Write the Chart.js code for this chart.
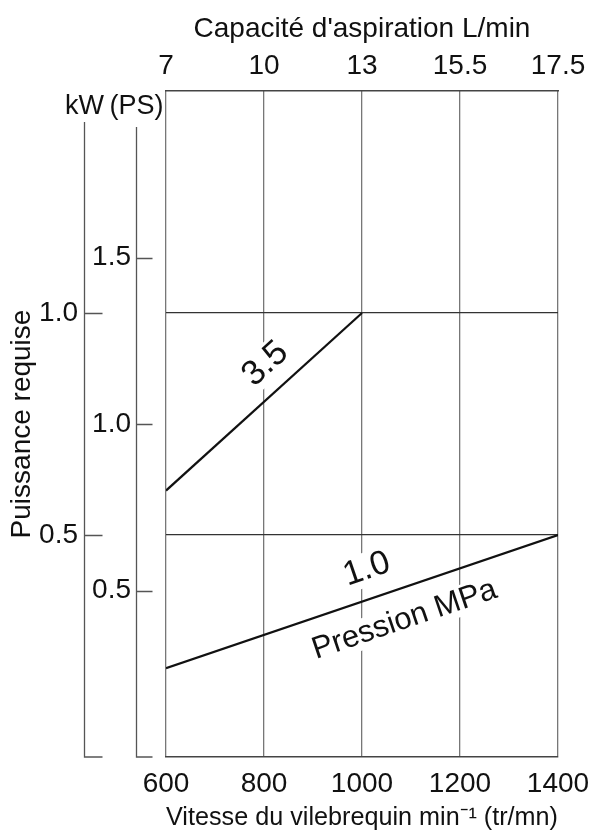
<!DOCTYPE html>
<html>
<head>
<meta charset="utf-8">
<script src="https://cdn.jsdelivr.net/npm/chart.js@4"></script>
<style>
  html, body { margin: 0; padding: 0; background: #fff; }
</style>
</head>
<body>
<canvas id="myChart" width="590" height="837"></canvas>
<script>
// crankshaft speed (min-1) on the bottom axis, suction capacity (L/min) on top
const rpmTicks = [600, 800, 1000, 1200, 1400];
const capacityLabels = ['7', '10', '13', '15.5', '17.5'];
const kwTicks = [0.5, 1.0];
const psTicks = [0.5, 1.0, 1.5];

// required power (kW) for each pressure line (MPa)
const pressureNames = ['3.5', '1.0'];
const rpm35 = [600, 1000];
const kw35 = [0.60, 1.00];
const rpm10 = [600, 1400];
const kw10 = [0.20, 0.50];

const FONT = "'Liberation Sans', Arial, Helvetica, sans-serif";
Chart.defaults.font.family = FONT;
Chart.defaults.color = '#111';

const toPoints = (xs, ys) => xs.map((x, i) => ({ x: x, y: ys[i] }));
const fixedTicks = list => scale => { scale.ticks = list.map(v => ({ value: v })); };
// fixed band height, and no extra side padding for the end labels
const horizFit = h => s => { s.height = h; s.paddingLeft = 0; s.paddingRight = 0; };

// labels written along the lines
const lineLabels = [
    { series: 0, text: pressureNames[0], t: 0.6, d: 27, size: 35 },
    { series: 1, text: pressureNames[1], t: 0.536, d: 29, size: 34 },
    { series: 1, text: 'Pression MPa', t: 0.583, d: -31, size: 31 }
];

const lineLabelPlugin = {
    id: 'lineLabels',
    beforeDatasetsDraw(chart) {
        const ctx = chart.ctx;
        lineLabels.forEach(lb => {
            const pts = chart.getDatasetMeta(lb.series).data;
            const p0 = pts[0], p1 = pts[pts.length - 1];
            const a = Math.atan2(p1.y - p0.y, p1.x - p0.x);
            const cx = p0.x + lb.t * (p1.x - p0.x) + lb.d * Math.sin(a);
            const cy = p0.y + lb.t * (p1.y - p0.y) - lb.d * Math.cos(a);
            ctx.save();
            ctx.translate(cx, cy);
            ctx.rotate(a);
            ctx.font = lb.size + 'px ' + FONT;
            const w = ctx.measureText(lb.text).width;
            ctx.fillStyle = '#fff';
            ctx.fillRect(-w / 2 - 6, -lb.size * 0.5, w + 12, lb.size);
            ctx.fillStyle = '#111';
            ctx.textAlign = 'center';
            ctx.textBaseline = 'middle';
            ctx.fillText(lb.text, 0, 0);
            ctx.restore();
        });
    }
};

// the two power axes: vertical line, ticks pointing right, unit on top
const powerAxesPlugin = {
    id: 'powerAxes',
    afterDraw(chart) {
        const { ctx, chartArea, scales } = chart;
        const axes = [
            { scale: scales.kw, ticks: kwTicks, shift: 0, drop: 31, len: 18, unit: 'kW' },
            { scale: scales.ps, ticks: psTicks, shift: -30, drop: 36, len: 16, unit: '(PS)' }
        ];
        ctx.save();
        ctx.strokeStyle = '#555';
        ctx.lineWidth = 1.3;
        axes.forEach(ax => {
            const x = Math.round(ax.scale.right + ax.shift) + 0.5;
            const bottom = chartArea.bottom;
            ctx.beginPath();
            ctx.moveTo(x, chartArea.top + ax.drop);
            ctx.lineTo(x, bottom);
            ctx.lineTo(x + ax.len, bottom);
            ax.ticks.forEach(v => {
                const y = Math.round(ax.scale.getPixelForValue(v)) + 0.5;
                ctx.moveTo(x, y);
                ctx.lineTo(x + ax.len, y);
            });
            ctx.stroke();
            ctx.fillStyle = '#111';
            ctx.font = '27px ' + FONT;
            ctx.textAlign = 'center';
            ctx.textBaseline = 'middle';
            ctx.fillText(ax.unit, x, chartArea.top + 16);
        });
        ctx.restore();
    }
};

new Chart(document.getElementById('myChart').getContext('2d'), {
    type: 'line',
    data: {
        datasets: [
            { label: pressureNames[0], data: toPoints(rpm35, kw35), xAxisID: 'x', yAxisID: 'kw' },
            { label: pressureNames[1], data: toPoints(rpm10, kw10), xAxisID: 'x', yAxisID: 'kw' }
        ]
    },
    options: {
        responsive: false,
        animation: false,
        devicePixelRatio: 1,
        layout: { padding: { left: 0, right: 32, top: 0, bottom: 0 } },
        elements: {
            line: { borderColor: '#111', borderWidth: 2.2, tension: 0, fill: false },
            point: { radius: 0 }
        },
        plugins: { legend: { display: false }, tooltip: { enabled: false } },
        scales: {
            x: {
                type: 'linear', position: 'bottom', min: 600, max: 1400,
                afterBuildTicks: fixedTicks(rpmTicks),
                afterFit: horizFit(80),
                grid: { color: '#777', lineWidth: 1.3, drawTicks: false },
                border: { color: '#444', width: 1.5 },
                ticks: {
                    font: { size: 28 }, padding: 10, maxRotation: 0, autoSkip: false,
                    callback: v => String(v)
                },
                title: {
                    display: true, text: 'Vitesse du vilebrequin min⁻¹ (tr/mn)',
                    font: { size: 26 }, padding: { top: 0, bottom: 4 }
                }
            },
            x2: {
                type: 'linear', position: 'top', min: 600, max: 1400,
                afterBuildTicks: fixedTicks(rpmTicks),
                afterFit: horizFit(91),
                grid: { display: false, drawTicks: false },
                border: { color: '#444', width: 1.5 },
                ticks: {
                    font: { size: 28 }, padding: 8, maxRotation: 0, autoSkip: false,
                    callback: (v, i) => capacityLabels[i]
                },
                title: {
                    display: true, text: "Capacité d'aspiration L/min",
                    font: { size: 28 }, padding: { top: 12, bottom: 0 }
                }
            },
            kw: {
                type: 'linear', position: 'left', weight: 2, min: 0, max: 1.5,
                afterBuildTicks: fixedTicks(kwTicks),
                afterFit: s => { s.width = 84; },
                grid: { color: '#333', lineWidth: 1.3, drawTicks: false },
                border: { display: false },
                ticks: { font: { size: 28 }, padding: 6, callback: v => v.toFixed(1) },
                title: {
                    display: true, text: 'Puissance requise',
                    font: { size: 28 }, padding: { top: 5, bottom: 0 }
                }
            },
            ps: {
                type: 'linear', position: 'left', weight: 1, min: 0, max: 2.0,
                afterBuildTicks: fixedTicks(psTicks),
                afterFit: s => { s.width = 82; },
                grid: { display: false, drawTicks: false },
                border: { display: false },
                ticks: { font: { size: 28 }, padding: 35, callback: v => v.toFixed(1) }
            }
        }
    },
    plugins: [lineLabelPlugin, powerAxesPlugin]
});
</script>
</body>
</html>
